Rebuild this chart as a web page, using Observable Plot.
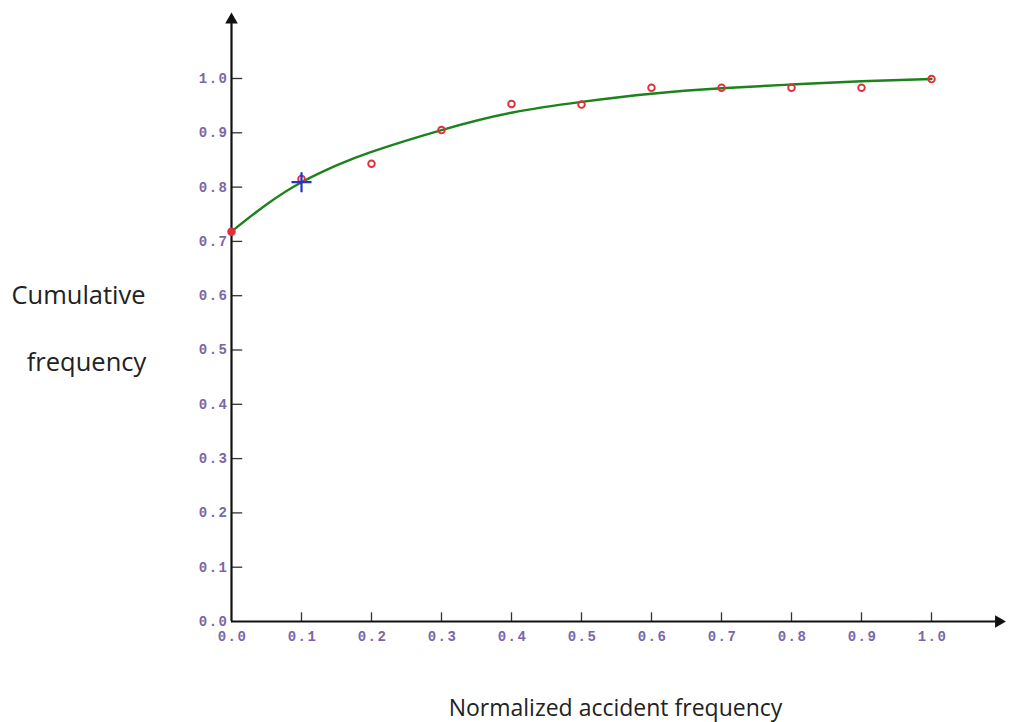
<!DOCTYPE html>
<html>
<head>
<meta charset="utf-8">
<script src="https://cdn.jsdelivr.net/npm/d3@7"></script>
<script src="https://cdn.jsdelivr.net/npm/@observablehq/plot@0.6"></script>
<style>
  html, body { margin: 0; padding: 0; background: #fff; }
  #chart svg { display: block; }
  #chart g[aria-label$="tick label"] text { letter-spacing: 1.5px; font-size: 14px; font-weight: bold; }
</style>
</head>
<body>
<div id="chart"></div>
<script>
// Observed points (red circles)
const obsX = [0.0, 0.1, 0.2, 0.3, 0.4, 0.5, 0.6, 0.7, 0.8, 0.9, 1.0];
const obsY = [0.718, 0.815, 0.843, 0.905, 0.953, 0.952, 0.983, 0.983, 0.983, 0.983, 0.999];
// Fitted curve (green)
const fitX = [0.0, 0.05, 0.1, 0.15, 0.2, 0.3, 0.4, 0.5, 0.6, 0.7, 0.8, 0.9, 1.0];
const fitY = [0.718, 0.768, 0.809, 0.840, 0.865, 0.905, 0.937, 0.957, 0.972, 0.982, 0.989, 0.995, 0.999];
// Highlighted point (blue cross)
const markX = [0.1];
const markY = [0.809];
// Tick values
const xTicks = [0.0, 0.1, 0.2, 0.3, 0.4, 0.5, 0.6, 0.7, 0.8, 0.9, 1.0];
const yTicks = [0.0, 0.1, 0.2, 0.3, 0.4, 0.5, 0.6, 0.7, 0.8, 0.9, 1.0];
const xTitle = "Normalized accident frequency";
const yTitle1 = "Cumulative";
const yTitle2 = "frequency";

const obs = obsX.map((x, i) => ({x, y: obsY[i]}));
const fit = fitX.map((x, i) => ({x, y: fitY[i]}));
const mark = markX.map((x, i) => ({x, y: markY[i]}));

const tickColor = "#7a66aa";
const fmt = d => d.toFixed(1);

const chart = Plot.plot({
  width: 1009,
  height: 722,
  marginLeft: 231,
  marginRight: 78,
  marginTop: 78,
  marginBottom: 101,
  x: {domain: [0, 1], label: null},
  y: {domain: [0, 1], label: null},
  style: {fontFamily: "Liberation Mono, monospace", background: "#fff"},
  marks: [
    // inward tick marks
    Plot.ruleY(yTicks.slice(1), {y: d => d, x1: 0, x2: 0.016, stroke: "#333", strokeWidth: 1.3}),
    Plot.ruleX(xTicks.slice(1), {x: d => d, y1: 0, y2: 0.016, stroke: "#333", strokeWidth: 1.3}),
    // tick labels
    Plot.axisY(yTicks, {tickSize: 0, tickPadding: 3, tickFormat: fmt, fill: tickColor, label: null}),
    Plot.axisX(xTicks, {tickSize: 0, tickPadding: 10, tickFormat: fmt, fill: tickColor, dx: 1, label: null}),
    // axis lines with arrowheads
    Plot.ruleX([0], {y1: 0, y2: 1.11, stroke: "#111", strokeWidth: 2.2}),
    Plot.ruleY([0], {x1: 0, x2: 1.095, stroke: "#111", strokeWidth: 2.2}),
    Plot.dot([{x: 0, y: 1.108}], {x: "x", y: "y", symbol: "triangle2", r: 6, fill: "#111"}),
    Plot.dot([{x: 1.096, y: 0}], {x: "x", y: "y", symbol: "triangle2", r: 6, fill: "#111", rotate: 90}),
    // fitted curve
    Plot.line(fit, {x: "x", y: "y", curve: "natural", stroke: "#1c821c", strokeWidth: 2.4}),
    // observed points
    Plot.dot(obs, {x: "x", y: "y", r: 3.3, stroke: "#e0303a", strokeWidth: 1.9, fill: (d, i) => i === 0 ? "#e0303a" : "none"}),
    // blue cross
    Plot.dot(mark, {x: "x", y: "y", symbol: "plus", r: 6.5, stroke: "#2233cc", strokeWidth: 2.2}),
    // axis titles
    Plot.text([xTitle], {frameAnchor: "bottom", dx: 34, dy: 94, text: d => d, fontSize: 23, fontFamily: "Open Sans", fill: "#222"}),
    Plot.text([yTitle1], {frameAnchor: "top-left", dx: -153, dy: 207, textAnchor: "middle", text: d => d, fontSize: 25.5, fontFamily: "Open Sans", fill: "#222"}),
    Plot.text([yTitle2], {frameAnchor: "top-left", dx: -145, dy: 274, textAnchor: "middle", text: d => d, fontSize: 25.5, fontFamily: "Open Sans", fill: "#222"})
  ]
});
document.getElementById("chart").appendChild(chart);
</script>
</body>
</html>
